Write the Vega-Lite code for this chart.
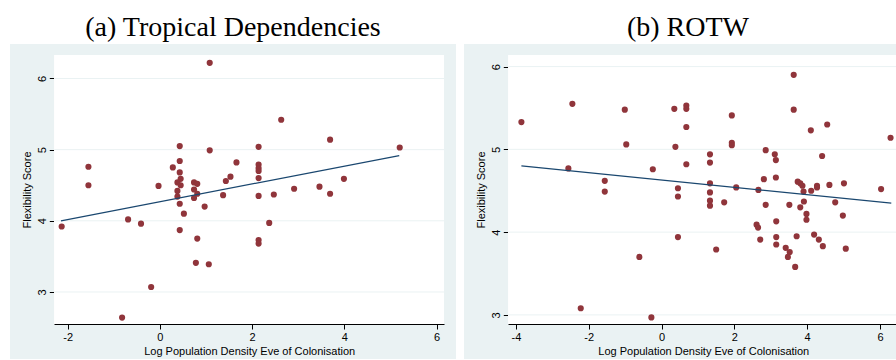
{
  "$schema": "https://vega.github.io/schema/vega-lite/v6.json",
  "background": "white",
  "padding": {"left": 10, "top": 14, "right": 0, "bottom": 0},
  "spacing": 8,
  "config": {
    "view": {"fill": "#eaf2f3", "stroke": null},
    "title": {"font": "Liberation Serif", "fontSize": 28, "fontWeight": "normal", "color": "#000", "baseline": "alphabetic", "offset": 2, "anchor": "middle"},
    "axis": {
      "labelFont": "Liberation Sans", "labelFontSize": 11, "labelColor": "#000",
      "titleFont": "Liberation Sans", "titleFontSize": 11, "titleFontWeight": "normal", "titleColor": "#000",
      "domainColor": "#000", "tickColor": "#000", "tickSize": 5, "domainWidth": 1, "tickWidth": 1,
      "grid": false, "zindex": 1, "labelExpr": "'' + datum.value"
    }
  },
  "datasets": {
    "a": [
      {"x": -2.13, "y": 3.92}, {"x": -1.55, "y": 4.76}, {"x": -1.55, "y": 4.50}, {"x": -0.82, "y": 2.64},
      {"x": -0.69, "y": 4.02}, {"x": -0.41, "y": 3.96}, {"x": -0.19, "y": 3.07}, {"x": -0.03, "y": 4.49},
      {"x": 0.28, "y": 4.75}, {"x": 0.43, "y": 5.05}, {"x": 0.43, "y": 4.84}, {"x": 0.43, "y": 4.68},
      {"x": 0.45, "y": 4.59}, {"x": 0.38, "y": 4.54}, {"x": 0.45, "y": 4.50}, {"x": 0.38, "y": 4.42},
      {"x": 0.38, "y": 4.34}, {"x": 0.43, "y": 4.24}, {"x": 0.52, "y": 4.10}, {"x": 0.43, "y": 3.87},
      {"x": 0.74, "y": 4.54}, {"x": 0.81, "y": 4.52}, {"x": 0.74, "y": 4.44}, {"x": 0.81, "y": 4.38},
      {"x": 0.74, "y": 4.32}, {"x": 0.97, "y": 4.20}, {"x": 0.81, "y": 3.75}, {"x": 0.78, "y": 3.41},
      {"x": 1.06, "y": 3.39}, {"x": 1.08, "y": 6.22}, {"x": 1.08, "y": 4.99}, {"x": 1.37, "y": 4.36},
      {"x": 1.43, "y": 4.56}, {"x": 1.53, "y": 4.62}, {"x": 1.66, "y": 4.82}, {"x": 2.14, "y": 5.04},
      {"x": 2.14, "y": 4.79}, {"x": 2.14, "y": 4.74}, {"x": 2.14, "y": 4.70}, {"x": 2.14, "y": 4.60},
      {"x": 2.14, "y": 4.35}, {"x": 2.14, "y": 3.73}, {"x": 2.14, "y": 3.68}, {"x": 2.37, "y": 3.97},
      {"x": 2.47, "y": 4.37}, {"x": 2.63, "y": 5.42}, {"x": 2.91, "y": 4.45}, {"x": 3.46, "y": 4.48},
      {"x": 3.69, "y": 5.14}, {"x": 3.69, "y": 4.38}, {"x": 3.99, "y": 4.59}, {"x": 5.20, "y": 5.03}
    ],
    "b": [
      {"x": -3.85, "y": 5.33}, {"x": -2.45, "y": 5.55}, {"x": -2.56, "y": 4.77}, {"x": -2.22, "y": 3.08},
      {"x": -1.01, "y": 5.48}, {"x": -0.97, "y": 5.06}, {"x": -1.56, "y": 4.62}, {"x": -1.56, "y": 4.49},
      {"x": -0.61, "y": 3.70}, {"x": -0.28, "y": 2.97}, {"x": -0.24, "y": 4.76}, {"x": 0.35, "y": 5.49},
      {"x": 0.38, "y": 5.03}, {"x": 0.68, "y": 5.53}, {"x": 0.68, "y": 5.49}, {"x": 0.68, "y": 5.27},
      {"x": 0.68, "y": 4.82}, {"x": 0.45, "y": 4.53}, {"x": 0.45, "y": 4.43}, {"x": 0.45, "y": 3.94},
      {"x": 1.33, "y": 4.94}, {"x": 1.33, "y": 4.84}, {"x": 1.33, "y": 4.59}, {"x": 1.33, "y": 4.48},
      {"x": 1.33, "y": 4.38}, {"x": 1.33, "y": 4.32}, {"x": 1.72, "y": 4.36}, {"x": 1.50, "y": 3.79},
      {"x": 1.93, "y": 5.41}, {"x": 1.93, "y": 5.08}, {"x": 1.93, "y": 5.05}, {"x": 2.05, "y": 4.54},
      {"x": 2.86, "y": 4.99}, {"x": 2.81, "y": 4.64}, {"x": 2.66, "y": 4.51}, {"x": 2.86, "y": 4.33},
      {"x": 2.61, "y": 4.09}, {"x": 2.65, "y": 4.055}, {"x": 2.71, "y": 3.91}, {"x": 3.11, "y": 4.94},
      {"x": 3.14, "y": 4.87}, {"x": 3.14, "y": 4.66}, {"x": 3.15, "y": 4.13}, {"x": 3.15, "y": 3.94},
      {"x": 3.15, "y": 3.85}, {"x": 3.41, "y": 3.81}, {"x": 3.52, "y": 3.76}, {"x": 3.47, "y": 3.70},
      {"x": 3.67, "y": 3.58}, {"x": 3.51, "y": 4.33}, {"x": 3.63, "y": 5.90}, {"x": 3.63, "y": 5.48},
      {"x": 4.10, "y": 5.23}, {"x": 4.55, "y": 5.30}, {"x": 4.41, "y": 4.92}, {"x": 3.74, "y": 4.61},
      {"x": 3.81, "y": 4.59}, {"x": 3.87, "y": 4.56}, {"x": 3.90, "y": 4.49}, {"x": 3.91, "y": 4.37},
      {"x": 3.81, "y": 4.30}, {"x": 4.11, "y": 4.50}, {"x": 4.27, "y": 4.56}, {"x": 4.27, "y": 4.54},
      {"x": 3.98, "y": 4.22}, {"x": 3.98, "y": 4.15}, {"x": 3.71, "y": 3.95}, {"x": 4.19, "y": 3.97},
      {"x": 4.32, "y": 3.91}, {"x": 4.43, "y": 3.83}, {"x": 4.61, "y": 4.57}, {"x": 5.01, "y": 4.59},
      {"x": 4.77, "y": 4.36}, {"x": 4.98, "y": 4.20}, {"x": 5.06, "y": 3.80}, {"x": 6.03, "y": 4.52},
      {"x": 6.29, "y": 5.14}
    ],
    "fitA": [{"x": -2.145, "y": 4.0}, {"x": 5.19, "y": 4.916}],
    "fitB": [{"x": -3.85, "y": 4.80}, {"x": 6.31, "y": 4.35}],
    "grid": [{"g": 3}, {"g": 4}, {"g": 5}, {"g": 6}]
  },
  "hconcat": [
    {
      "title": "(a) Tropical Dependencies",
      "width": 446,
      "height": 315,
      "layer": [
        {
          "data": {"name": "grid"},
          "mark": {"type": "rect", "fill": "white"},
          "encoding": {
            "x": {"datum": -2.29, "type": "quantitative",
                  "scale": {"domain": [-2.29, 6.16], "range": [44.3, 434], "nice": false, "zero": false},
                  "axis": {"title": "Log Population Density Eve of Colonisation", "values": [-2, 0, 2, 4, 6], "offset": -35, "labelPadding": 2, "titlePadding": 3}},
            "x2": {"datum": 6.16},
            "y": {"datum": 2.55, "type": "quantitative",
                  "scale": {"domain": [2.55, 6.33], "range": [280, 11], "nice": false, "zero": false},
                  "axis": {"title": "Flexibility Score", "values": [3, 4, 5, 6], "offset": -44.3, "labelAngle": -90, "labelPadding": 2, "titlePadding": 4}},
            "y2": {"datum": 6.33}
          }
        },
        {
          "data": {"name": "grid"},
          "mark": {"type": "rule", "color": "#eaf2f3", "strokeWidth": 1},
          "encoding": {
            "y": {"field": "g", "type": "quantitative"},
            "x": {"datum": -2.29},
            "x2": {"datum": 6.16}
          }
        },
        {
          "data": {"name": "a"},
          "mark": {"type": "circle", "color": "#90353b", "opacity": 1, "size": 38},
          "encoding": {
            "x": {"field": "x", "type": "quantitative"},
            "y": {"field": "y", "type": "quantitative"}
          }
        },
        {
          "data": {"name": "fitA"},
          "mark": {"type": "line", "color": "#1a476f", "strokeWidth": 1.2},
          "encoding": {
            "x": {"field": "x", "type": "quantitative"},
            "y": {"field": "y", "type": "quantitative"}
          }
        }
      ]
    },
    {
      "title": "(b) ROTW",
      "width": 448,
      "height": 315,
      "layer": [
        {
          "data": {"name": "grid"},
          "mark": {"type": "rect", "fill": "white"},
          "encoding": {
            "x": {"datum": -4.21, "type": "quantitative",
                  "scale": {"domain": [-4.21, 6.5], "range": [44.3, 434.2], "nice": false, "zero": false},
                  "axis": {"title": "Log Population Density Eve of Colonisation", "values": [-4, -2, 0, 2, 4, 6], "offset": -35, "labelPadding": 2, "titlePadding": 3}},
            "x2": {"datum": 6.5},
            "y": {"datum": 2.89, "type": "quantitative",
                  "scale": {"domain": [2.89, 6.14], "range": [280, 11], "nice": false, "zero": false},
                  "axis": {"title": "Flexibility Score", "values": [3, 4, 5, 6], "offset": -44.3, "labelAngle": -90, "labelPadding": 2, "titlePadding": 4}},
            "y2": {"datum": 6.14}
          }
        },
        {
          "data": {"name": "grid"},
          "mark": {"type": "rule", "color": "#eaf2f3", "strokeWidth": 1},
          "encoding": {
            "y": {"field": "g", "type": "quantitative"},
            "x": {"datum": -4.21},
            "x2": {"datum": 6.5}
          }
        },
        {
          "data": {"name": "b"},
          "mark": {"type": "circle", "color": "#90353b", "opacity": 1, "size": 38},
          "encoding": {
            "x": {"field": "x", "type": "quantitative"},
            "y": {"field": "y", "type": "quantitative"}
          }
        },
        {
          "data": {"name": "fitB"},
          "mark": {"type": "line", "color": "#1a476f", "strokeWidth": 1.2},
          "encoding": {
            "x": {"field": "x", "type": "quantitative"},
            "y": {"field": "y", "type": "quantitative"}
          }
        }
      ]
    }
  ]
}
